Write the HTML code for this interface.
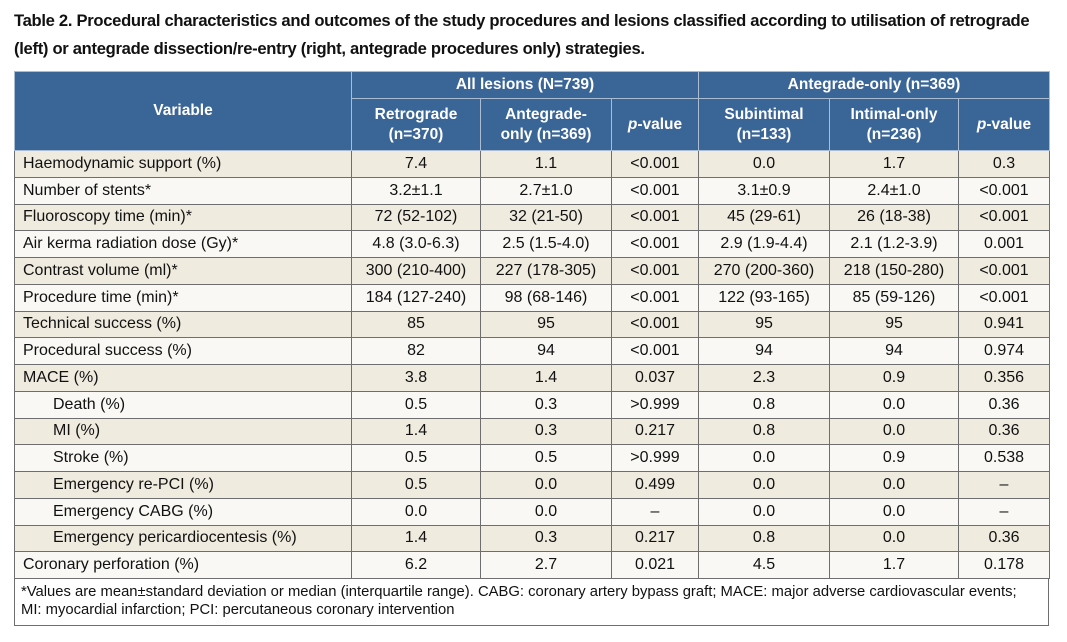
<!DOCTYPE html>
<html><head><meta charset="utf-8"><style>
body{margin:0;background:#fff;width:1067px;height:642px;position:relative;font-family:"Liberation Sans",sans-serif;overflow:hidden}
.title{position:absolute;left:14px;top:7px;font-weight:bold;font-size:16.6px;line-height:28px;color:#111;letter-spacing:-0.3px}
table{position:absolute;left:14px;top:71px;border-collapse:collapse;width:1035px;table-layout:fixed}
th{background:#3a6597;color:#fff;font-weight:bold;font-size:15.5px;border:1px solid #a9bcd3;padding:0;line-height:20px;text-align:center}
tr.o,tr.e{height:26.75px}
td{border:1px solid #6e6e6e;padding:0;font-size:16px;color:#111;text-align:center}
td.l{text-align:left;padding-left:8px}
td.i{padding-left:38px}
tr.o td{background:#efebdf}
tr.e td{background:#f9f8f4}
.foot{position:absolute;left:14px;top:578px;width:1021px;height:40px;border:1px solid #6e6e6e;border-top:none;font-size:14.8px;line-height:18px;padding:5px 6px 2px;color:#111}
</style></head><body>
<div class="title">Table 2. Procedural characteristics and outcomes of the study procedures and lesions classified according to utilisation of retrograde<br>(left) or antegrade dissection/re-entry (right, antegrade procedures only) strategies.</div>
<table>
<colgroup><col style="width:337px"><col style="width:129px"><col style="width:131px"><col style="width:87px"><col style="width:131px"><col style="width:129px"><col style="width:91px"></colgroup>
<tr style="height:27px"><th rowspan="2">Variable</th><th colspan="3">All lesions (N=739)</th><th colspan="3">Antegrade-only (n=369)</th></tr>
<tr style="height:52px"><th>Retrograde<br>(n=370)</th><th>Antegrade-<br>only (n=369)</th><th><i>p</i>-value</th><th>Subintimal<br>(n=133)</th><th>Intimal-only<br>(n=236)</th><th><i>p</i>-value</th></tr>
<tr class="o"><td class="l">Haemodynamic support (%)</td><td>7.4</td><td>1.1</td><td>&lt;0.001</td><td>0.0</td><td>1.7</td><td>0.3</td></tr>
<tr class="e"><td class="l">Number of stents*</td><td>3.2±1.1</td><td>2.7±1.0</td><td>&lt;0.001</td><td>3.1±0.9</td><td>2.4±1.0</td><td>&lt;0.001</td></tr>
<tr class="o"><td class="l">Fluoroscopy time (min)*</td><td>72 (52-102)</td><td>32 (21-50)</td><td>&lt;0.001</td><td>45 (29-61)</td><td>26 (18-38)</td><td>&lt;0.001</td></tr>
<tr class="e"><td class="l">Air kerma radiation dose (Gy)*</td><td>4.8 (3.0-6.3)</td><td>2.5 (1.5-4.0)</td><td>&lt;0.001</td><td>2.9 (1.9-4.4)</td><td>2.1 (1.2-3.9)</td><td>0.001</td></tr>
<tr class="o"><td class="l">Contrast volume (ml)*</td><td>300 (210-400)</td><td>227 (178-305)</td><td>&lt;0.001</td><td>270 (200-360)</td><td>218 (150-280)</td><td>&lt;0.001</td></tr>
<tr class="e"><td class="l">Procedure time (min)*</td><td>184 (127-240)</td><td>98 (68-146)</td><td>&lt;0.001</td><td>122 (93-165)</td><td>85 (59-126)</td><td>&lt;0.001</td></tr>
<tr class="o"><td class="l">Technical success (%)</td><td>85</td><td>95</td><td>&lt;0.001</td><td>95</td><td>95</td><td>0.941</td></tr>
<tr class="e"><td class="l">Procedural success (%)</td><td>82</td><td>94</td><td>&lt;0.001</td><td>94</td><td>94</td><td>0.974</td></tr>
<tr class="o"><td class="l">MACE (%)</td><td>3.8</td><td>1.4</td><td>0.037</td><td>2.3</td><td>0.9</td><td>0.356</td></tr>
<tr class="e"><td class="l i">Death (%)</td><td>0.5</td><td>0.3</td><td>&gt;0.999</td><td>0.8</td><td>0.0</td><td>0.36</td></tr>
<tr class="o"><td class="l i">MI (%)</td><td>1.4</td><td>0.3</td><td>0.217</td><td>0.8</td><td>0.0</td><td>0.36</td></tr>
<tr class="e"><td class="l i">Stroke (%)</td><td>0.5</td><td>0.5</td><td>&gt;0.999</td><td>0.0</td><td>0.9</td><td>0.538</td></tr>
<tr class="o"><td class="l i">Emergency re-PCI (%)</td><td>0.5</td><td>0.0</td><td>0.499</td><td>0.0</td><td>0.0</td><td>–</td></tr>
<tr class="e"><td class="l i">Emergency CABG (%)</td><td>0.0</td><td>0.0</td><td>–</td><td>0.0</td><td>0.0</td><td>–</td></tr>
<tr class="o"><td class="l i">Emergency pericardiocentesis (%)</td><td>1.4</td><td>0.3</td><td>0.217</td><td>0.8</td><td>0.0</td><td>0.36</td></tr>
<tr class="e"><td class="l">Coronary perforation (%)</td><td>6.2</td><td>2.7</td><td>0.021</td><td>4.5</td><td>1.7</td><td>0.178</td></tr>
</table>
<div class="foot">*Values are mean±standard deviation or median (interquartile range). CABG: coronary artery bypass graft; MACE: major adverse cardiovascular events;<br>MI: myocardial infarction; PCI: percutaneous coronary intervention</div>
</body></html>
